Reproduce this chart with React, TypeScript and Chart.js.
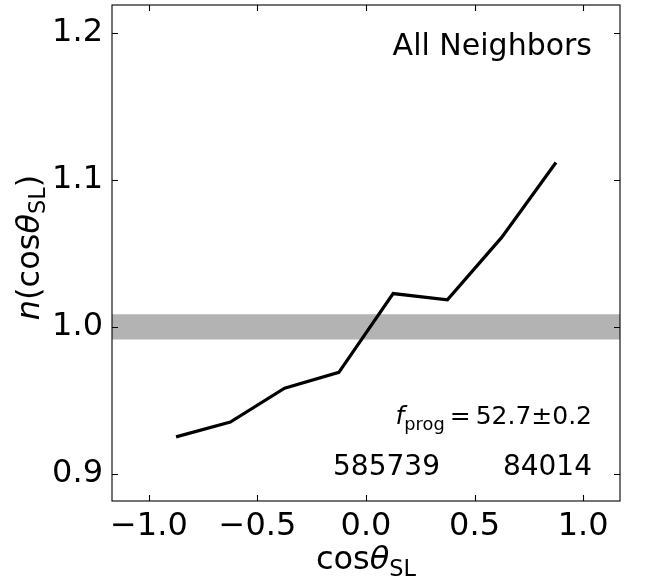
import React, { useEffect, useRef } from 'react';
import { Chart, registerables } from 'chart.js';

Chart.register(...registerables);

// ---- data ----
const xBins: number[] = [-0.875, -0.625, -0.375, -0.125, 0.125, 0.375, 0.625, 0.875];
const nValues: number[] = [0.9252, 0.9353, 0.9583, 0.9691, 1.0227, 1.0184, 1.0609, 1.1119];
const bandLow = 0.9914;
const bandHigh = 1.0086;
const xLimits: number[] = [-1.17, 1.17];
const yLimits: number[] = [0.8816, 1.219];
const panelTitle = 'All Neighbors';
const fProgValue = '52.7±0.2';
const countLeft = '585739';
const countRight = '84014';

const FONT = '"DejaVu Sans"';

type Part = { text: string; size: number; italic?: boolean; dy?: number; gap?: number };

function drawParts(ctx: CanvasRenderingContext2D, parts: Part[], x: number, y: number, align: 'left' | 'center' | 'right') {
  const widths = parts.map((p) => {
    if (p.gap !== undefined) return p.gap;
    ctx.font = `${p.italic ? 'italic ' : ''}${p.size}px ${FONT}`;
    return ctx.measureText(p.text).width;
  });
  const total = widths.reduce((s, w) => s + w, 0);
  let cx = align === 'left' ? x : align === 'center' ? x - total / 2 : x - total;
  ctx.textAlign = 'left';
  ctx.textBaseline = 'alphabetic';
  parts.forEach((p, i) => {
    if (p.gap === undefined) {
      ctx.font = `${p.italic ? 'italic ' : ''}${p.size}px ${FONT}`;
      ctx.fillText(p.text, cx, y + (p.dy || 0));
    }
    cx += widths[i];
  });
}

const overlay = {
  id: 'overlay',
  afterDraw(chart: any) {
    const { ctx, chartArea: a, scales } = chart;
    const xs = scales.x;
    const ys = scales.y;
    ctx.save();
    ctx.strokeStyle = '#000';
    ctx.lineWidth = 1.1;
    ctx.strokeRect(a.left, a.top, a.right - a.left, a.bottom - a.top);
    const tl = 6;
    ctx.beginPath();
    xs.ticks.forEach((t: any) => {
      const px = Math.round(xs.getPixelForValue(t.value)) + 0.5;
      ctx.moveTo(px, a.bottom);
      ctx.lineTo(px, a.bottom - tl);
      ctx.moveTo(px, a.top);
      ctx.lineTo(px, a.top + tl);
    });
    ys.ticks.forEach((t: any) => {
      const py = Math.round(ys.getPixelForValue(t.value)) + 0.5;
      ctx.moveTo(a.left, py);
      ctx.lineTo(a.left + tl, py);
      ctx.moveTo(a.right, py);
      ctx.lineTo(a.right - tl, py);
    });
    ctx.stroke();

    ctx.fillStyle = '#000';
    // x axis title
    const cxMid = (a.left + a.right) / 2;
    drawParts(ctx, [
      { text: 'cos', size: 32 },
      { text: 'θ', size: 32, italic: true },
      { text: 'SL', size: 22.4, dy: 6.5 },
    ], cxMid, 569, 'center');

    // y axis title (rotated)
    ctx.save();
    ctx.translate(38.5, 247.5);
    ctx.rotate(-Math.PI / 2);
    drawParts(ctx, [
      { text: 'n', size: 32, italic: true },
      { text: '(cos', size: 32 },
      { text: 'θ', size: 32, italic: true },
      { text: 'SL', size: 22.4, dy: 6.5 },
      { text: ')', size: 32 },
    ], 0, 0, 'center');
    ctx.restore();

    // annotations
    drawParts(ctx, [{ text: panelTitle, size: 30 }], 592, 55, 'right');
    drawParts(ctx, [
      { text: 'f', size: 25, italic: true },
      { text: 'prog', size: 17.8, dy: 6 },
      { text: '', size: 25, gap: 5 },
      { text: '=', size: 25 },
      { text: '', size: 25, gap: 5 },
      { text: fProgValue, size: 25 },
    ], 592, 424, 'right');
    drawParts(ctx, [{ text: countLeft, size: 28 }], 386.5, 475, 'center');
    drawParts(ctx, [{ text: countRight, size: 28 }], 592, 475, 'right');
    ctx.restore();
  },
};

export default function App() {
  const ref = useRef<HTMLCanvasElement | null>(null);
  useEffect(() => {
    if (!ref.current) return;
    const chart = new Chart(ref.current, {
      type: 'line',
      data: {
        datasets: [
          {
            label: 'n',
            data: xBins.map((x, i) => ({ x, y: nValues[i] })),
            borderColor: '#000',
            borderWidth: 3.2,
            pointRadius: 0,
            fill: false,
            tension: 0,
            order: 0,
          },
          {
            label: 'bandHigh',
            data: xLimits.map((x) => ({ x, y: bandHigh })),
            borderWidth: 0,
            borderColor: 'rgba(0,0,0,0)',
            backgroundColor: 'rgb(179,179,179)',
            pointRadius: 0,
            fill: '+1',
            order: 1,
          },
          {
            label: 'bandLow',
            data: xLimits.map((x) => ({ x, y: bandLow })),
            borderWidth: 0,
            borderColor: 'rgba(0,0,0,0)',
            pointRadius: 0,
            fill: false,
            order: 2,
          },
        ],
      },
      options: {
        animation: false,
        responsive: false,
        devicePixelRatio: 1,
        layout: { padding: { left: 0, right: 26, top: 5, bottom: 0 } },
        plugins: { legend: { display: false }, tooltip: { enabled: false } },
        scales: {
          x: {
            type: 'linear',
            min: xLimits[0],
            max: xLimits[1],
            grid: { display: false, drawTicks: false },
            border: { display: false },
            afterFit: (s: any) => { s.height = 79; s.paddingLeft = 0; s.paddingRight = 0; },
            ticks: {
              stepSize: 0.5,
              includeBounds: false,
              padding: 6,
              color: '#000',
              font: { family: FONT, size: 32 },
              maxRotation: 0,
              autoSkip: false,
              callback: (v: any) => Number(v).toFixed(1).replace('-', '\u2212'),
            },
          },
          y: {
            type: 'linear',
            min: yLimits[0],
            max: yLimits[1],
            grid: { display: false, drawTicks: false },
            border: { display: false },
            afterFit: (s: any) => { s.width = 112; s.paddingTop = 0; s.paddingBottom = 0; },
            ticks: {
              stepSize: 0.1,
              includeBounds: false,
              padding: 9,
              color: '#000',
              font: { family: FONT, size: 32 },
              autoSkip: false,
              callback: (v: any) => Number(v).toFixed(1),
            },
          },
        },
      },
      plugins: [overlay],
    } as any);
    return () => chart.destroy();
  }, []);
  return (
    <div style={{ position: 'fixed', left: 0, top: 0, width: 646, height: 580, background: '#fff' }}>
      <canvas ref={ref} width={646} height={580} style={{ display: 'block' }} />
    </div>
  );
}
